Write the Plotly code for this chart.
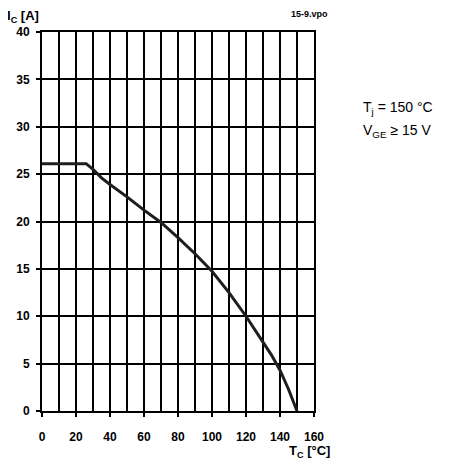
import plotly.graph_objects as go

# Data
tc = [0, 26, 30, 35, 40, 50, 60, 70, 80, 90, 100, 110, 120, 130, 135, 140, 145, 150]
ic = [26.1, 26.1, 25.5, 24.6, 23.9, 22.6, 21.2, 19.9, 18.3, 16.6, 14.75, 12.5, 10.0, 7.3, 5.9, 4.3, 2.3, 0.0]

x_ticks = [0, 20, 40, 60, 80, 100, 120, 140, 160]
y_ticks = [0, 5, 10, 15, 20, 25, 30, 35, 40]

OFF = 8  # page body margin
W, H = 461 - OFF, 461 - OFF
L, R, T, B = 42 - OFF, 314 - OFF, 32 - OFF, 411 - OFF

def px(x):
    return (x - OFF - L) / (R - L)

def py(y):
    return (B - (y - OFF)) / (B - T)

fig = go.Figure()
fig.add_trace(go.Scatter(x=tc, y=ic, mode="lines", line=dict(color="#1e1e1e", width=3),
                         hoverinfo="skip", showlegend=False))

font_b = dict(family="Liberation Sans, Arial, sans-serif", size=12, color="black")

fig.update_layout(
    width=W, height=H,
    margin=dict(l=L, r=W - R, t=T, b=H - B, pad=0),
    paper_bgcolor="white", plot_bgcolor="white",
    font=font_b,
    xaxis=dict(range=[0, 160], tickvals=x_ticks, ticktext=[f"<b>{v}</b>" for v in x_ticks],
               showgrid=True, gridcolor="black", gridwidth=2,
               minor=dict(dtick=10, showgrid=True, gridcolor="black", gridwidth=2),
               ticks="outside", ticklen=4, tickwidth=1.5, tickcolor="black",
               ticklabelstandoff=10, automargin=False,
               showline=True, linecolor="black", linewidth=2, mirror=True,
               zeroline=False, fixedrange=True),
    yaxis=dict(range=[0, 40], tickvals=y_ticks, ticktext=[f"<b>{v}</b>" for v in y_ticks],
               showgrid=True, gridcolor="black", gridwidth=2,
               ticks="outside", ticklen=4, tickwidth=1.5, tickcolor="black",
               ticklabelstandoff=4, automargin=False,
               showline=True, linecolor="black", linewidth=2, mirror=True,
               zeroline=False, fixedrange=True),
)

ann = []
ann.append(dict(text="<b>I<sub>C</sub> [A]</b>", x=px(5), y=py(16), xref="paper", yref="paper",
                xanchor="left", yanchor="middle", showarrow=False, font=dict(size=13)))
ann.append(dict(text="<b>15-9.vpo</b>", x=px(330), y=py(14), xref="paper", yref="paper",
                xanchor="right", yanchor="middle", showarrow=False, font=dict(size=9)))
ann.append(dict(text="<b>T<sub>C</sub> [°C]</b>", x=px(332), y=py(451), xref="paper", yref="paper",
                xanchor="right", yanchor="middle", showarrow=False, font=dict(size=13)))
ann.append(dict(text="T<sub>j</sub> = 150 °C", x=px(361), y=py(108), xref="paper", yref="paper",
                xanchor="left", yanchor="middle", showarrow=False, font=dict(size=14)))
ann.append(dict(text="V<sub>GE</sub> ≥ 15 V", x=px(361), y=py(131), xref="paper", yref="paper",
                xanchor="left", yanchor="middle", showarrow=False, font=dict(size=14)))
fig.update_layout(annotations=ann)

fig.write_html("out.html")
